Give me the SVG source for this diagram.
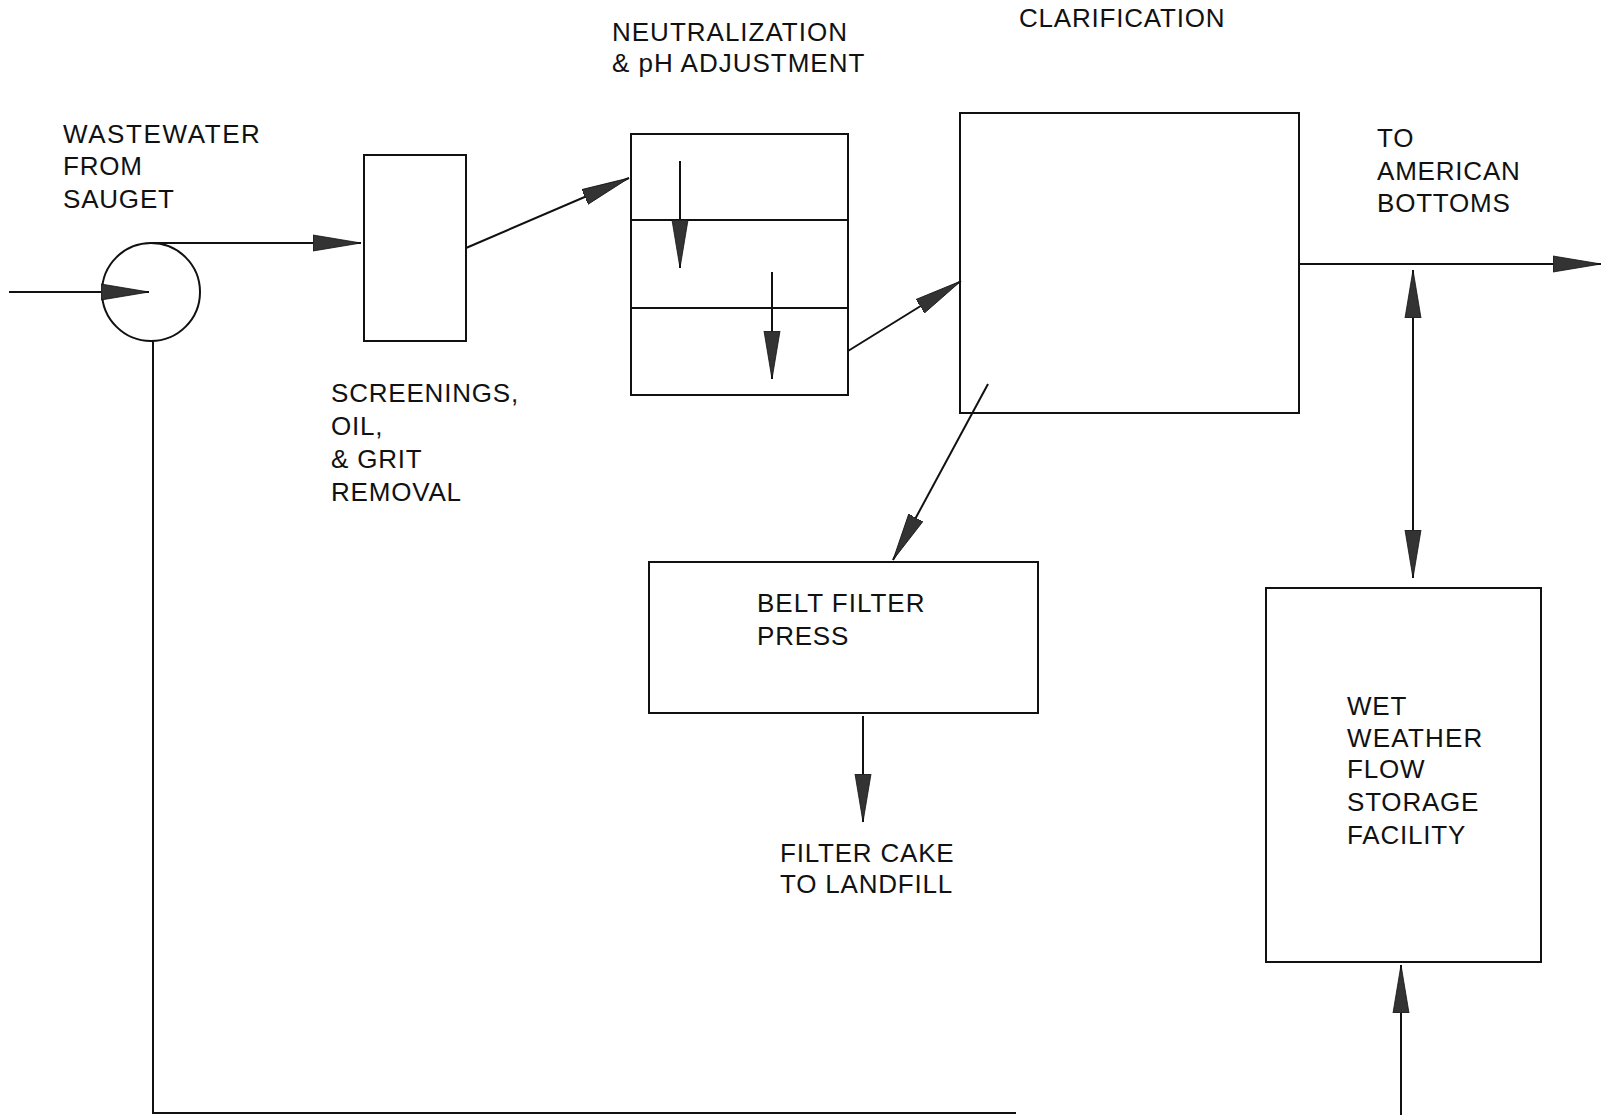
<svg xmlns="http://www.w3.org/2000/svg" width="1602" height="1115" viewBox="0 0 1602 1115">
<style>
  .box { fill: none; stroke: #111; stroke-width: 2; }
  .ln { fill: none; stroke: #111; stroke-width: 2; }
  .arr { marker-end: url(#ah); }
  .txt { font-family: "Liberation Sans", Arial, sans-serif; font-size: 26px; fill: #111; letter-spacing: 0.8px; }
</style>
<defs>
  <marker id="ah" markerUnits="userSpaceOnUse" markerWidth="50" markerHeight="20" viewBox="0 -10 50 20" refX="48" refY="0" orient="auto-start-reverse">
    <path d="M0,-8 L48,0 L0,8 z" fill="#333" stroke="#111" stroke-width="0.8"/>
  </marker>
</defs>
<rect width="1602" height="1115" fill="#fff"/>

<g id="pump">
  <circle cx="151" cy="292" r="49" class="box"/>
  <text class="txt" x="63" y="143" style="letter-spacing:1.6px">WASTEWATER</text>
  <text class="txt" x="63" y="175">FROM</text>
  <text class="txt" x="63" y="208">SAUGET</text>
</g>

<g id="screening">
  <rect x="364" y="155" width="102" height="186" class="box"/>
  <text class="txt" x="331" y="402">SCREENINGS,</text>
  <text class="txt" x="331" y="435">OIL,</text>
  <text class="txt" x="331" y="468">&amp; GRIT</text>
  <text class="txt" x="331" y="501">REMOVAL</text>
</g>

<g id="neutralization">
  <rect x="631" y="134" width="217" height="261" class="box"/>
  <line x1="631" y1="220" x2="848" y2="220" class="ln"/>
  <line x1="631" y1="308" x2="848" y2="308" class="ln"/>
  <text class="txt" x="612" y="41" style="letter-spacing:1px">NEUTRALIZATION</text>
  <text class="txt" x="612" y="72" style="letter-spacing:1px">&amp; pH ADJUSTMENT</text>
</g>

<g id="clarification">
  <rect x="960" y="113" width="339" height="300" class="box"/>
  <text class="txt" x="1019" y="27">CLARIFICATION</text>
</g>

<g id="outlet">
  <text class="txt" x="1377" y="147">TO</text>
  <text class="txt" x="1377" y="180">AMERICAN</text>
  <text class="txt" x="1377" y="212">BOTTOMS</text>
</g>

<g id="beltfilter">
  <rect x="649" y="562" width="389" height="151" class="box"/>
  <text class="txt" x="757" y="612" style="letter-spacing:1px">BELT FILTER</text>
  <text class="txt" x="757" y="645">PRESS</text>
</g>

<g id="filtercake">
  <text class="txt" x="780" y="862">FILTER CAKE</text>
  <text class="txt" x="780" y="893">TO LANDFILL</text>
</g>

<g id="storage">
  <rect x="1266" y="588" width="275" height="374" class="box"/>
  <text class="txt" x="1347" y="715">WET</text>
  <text class="txt" x="1347" y="747" style="letter-spacing:1.2px">WEATHER</text>
  <text class="txt" x="1347" y="778">FLOW</text>
  <text class="txt" x="1347" y="811">STORAGE</text>
  <text class="txt" x="1347" y="844">FACILITY</text>
</g>

<g id="connectors">
  <line x1="9" y1="292" x2="149" y2="292" class="ln arr"/>
  <line x1="151" y1="243" x2="361" y2="243" class="ln arr"/>
  <line x1="466" y1="248" x2="629" y2="178" class="ln arr"/>
  <line x1="680" y1="161" x2="680" y2="268" class="ln arr"/>
  <line x1="772" y1="272" x2="772" y2="379" class="ln arr"/>
  <line x1="848" y1="351" x2="961" y2="281" class="ln arr"/>
  <line x1="1299" y1="264" x2="1601" y2="264" class="ln arr"/>
  <line x1="1413" y1="270" x2="1413" y2="578" class="ln" marker-start="url(#ah)" marker-end="url(#ah)"/>
  <line x1="988" y1="384" x2="893" y2="560" class="ln arr"/>
  <line x1="863" y1="716" x2="863" y2="822" class="ln arr"/>
  <path d="M153,341 V1113 H1016" class="ln"/>
  <line x1="1401" y1="1115" x2="1401" y2="965" class="ln arr"/>
</g>
</svg>
